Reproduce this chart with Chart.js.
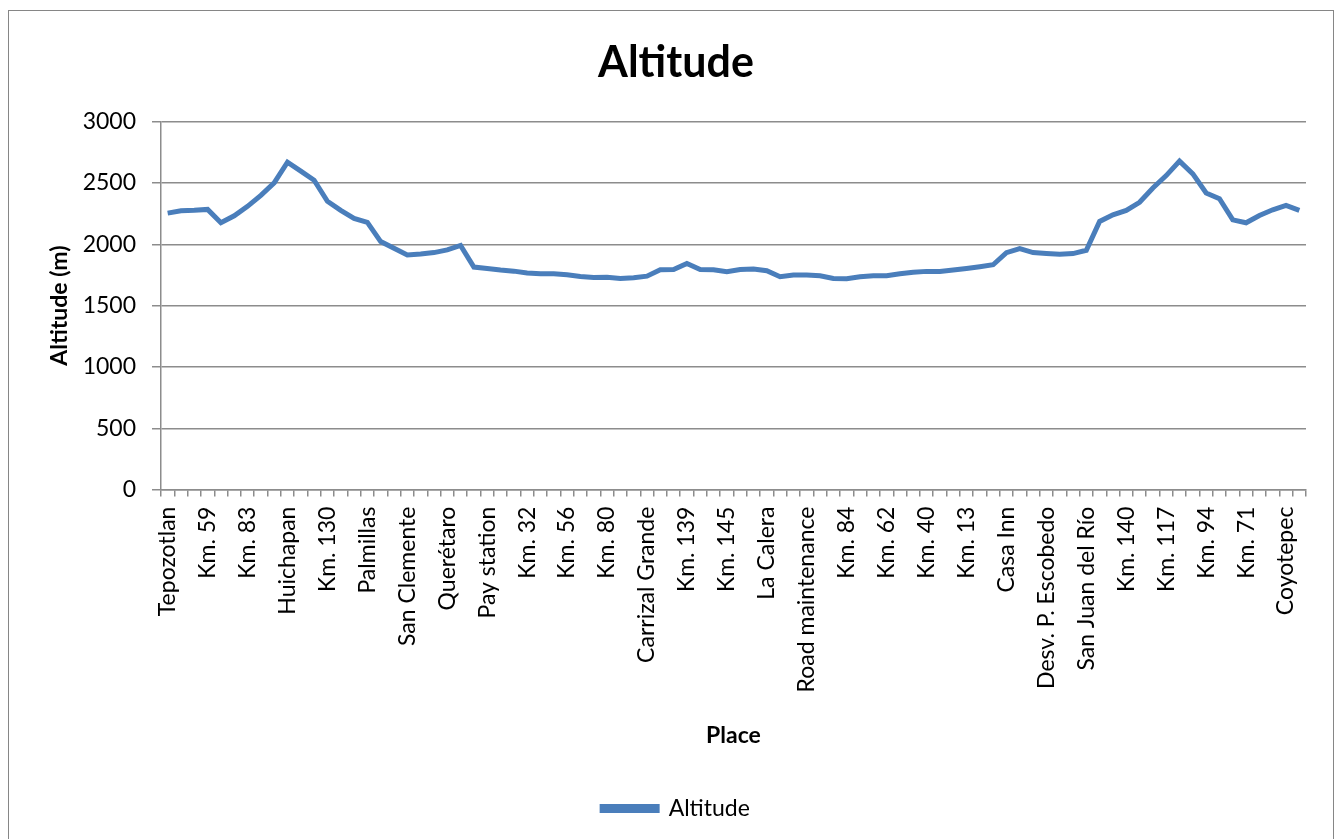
<!DOCTYPE html>
<html>
<head>
<meta charset="utf-8">
<script src="https://cdn.jsdelivr.net/npm/chart.js"></script>
<style>
  html, body { margin: 0; padding: 0; background: #fff; overflow: hidden; }
  #frame { position: absolute; left: 8px; top: 10px; width: 1324px; height: 860px; border: 1px solid #868686; }
  #wrap { position: absolute; left: 0; top: 0; width: 1341px; height: 839px; }
</style>
</head>
<body>
<div id="frame"></div>
<div id="wrap"><canvas id="chart" width="1341" height="839"></canvas></div>
<script>
// Places shown on the axis (every third stop along the route)
const tickLabels = [
  'Tepozotlan', 'Km. 59', 'Km. 83', 'Huichapan', 'Km. 130', 'Palmillas',
  'San Clemente', 'Querétaro', 'Pay station', 'Km. 32', 'Km. 56', 'Km. 80',
  'Carrizal Grande', 'Km. 139', 'Km. 145', 'La Calera', 'Road maintenance',
  'Km. 84', 'Km. 62', 'Km. 40', 'Km. 13', 'Casa Inn', 'Desv. P. Escobedo',
  'San Juan del Río', 'Km. 140', 'Km. 117', 'Km. 94', 'Km. 71', 'Coyotepec'
];

// Altitude (m) at each stop
const altitude = [
  2254, 2273, 2277, 2284, 2175, 2232, 2309, 2399, 2500, 2669,
  2596, 2522, 2350, 2276, 2210, 2178, 2022, 1967, 1913, 1921,
  1932, 1954, 1990, 1814, 1803, 1790, 1781, 1765, 1760, 1760,
  1751, 1738, 1730, 1732, 1721, 1727, 1740, 1792, 1795, 1844,
  1795, 1792, 1777, 1795, 1798, 1784, 1735, 1749, 1749, 1743,
  1721, 1719, 1735, 1743, 1743, 1760, 1771, 1779, 1779, 1790,
  1803, 1817, 1833, 1932, 1965, 1932, 1924, 1918, 1924, 1951,
  2186, 2240, 2276, 2342, 2459, 2560, 2678, 2574, 2418, 2372,
  2199, 2175, 2235, 2281, 2317, 2276
];

// one category per stop; only every third one carries a name
const places = altitude.map((v, i) => (i % 3 === 0 ? tickLabels[i / 3] : ''));

const FONT = 'Lato, "Noto Sans", sans-serif';
const GRID = '#8c8c8c';

new Chart(document.getElementById('chart').getContext('2d'), {
  type: 'line',
  data: {
    labels: places,
    datasets: [{
      label: 'Altitude',
      data: altitude,
      borderColor: '#4a7ebb',
      backgroundColor: '#4a7ebb',
      borderWidth: 5,
      pointRadius: 0,
      tension: 0,
      fill: false
    }]
  },
  options: {
    responsive: false,
    animation: false,
    layout: { padding: { left: 46, right: 35, top: 20, bottom: 9 } },
    plugins: {
      title: {
        display: true,
        text: 'Altitude',
        color: '#000',
        font: { family: FONT, size: 43, weight: 'bold' },
        padding: { top: 17, bottom: 33 }
      },
      legend: {
        position: 'bottom',
        labels: {
          color: '#000',
          font: { family: FONT, size: 23 },
          boxWidth: 55,
          boxHeight: 4,
          padding: 10
        }
      },
      tooltip: { enabled: false }
    },
    scales: {
      x: {
        offset: true,
        border: { color: GRID, width: 1.5 },
        grid: { offset: true, drawOnChartArea: false, drawTicks: true, tickLength: 7, color: GRID, lineWidth: 1.5 },
        ticks: {
          autoSkip: false,
          maxRotation: 90,
          minRotation: 90,
          padding: 10,
          color: '#000',
          font: { family: FONT, size: 23 }
        },
        title: {
          display: true,
          text: 'Place',
          color: '#000',
          font: { family: FONT, size: 23, weight: 'bold' },
          padding: { top: 19, bottom: 38 }
        }
      },
      y: {
        min: 0,
        max: 3000,
        border: { color: GRID, width: 1.5 },
        grid: { color: GRID, lineWidth: 1.5, tickLength: 9 },
        ticks: {
          stepSize: 500,
          padding: 16,
          color: '#000',
          font: { family: FONT, size: 23 },
          callback: v => String(v)
        },
        title: {
          display: true,
          text: 'Altitude (m)',
          color: '#000',
          font: { family: FONT, size: 23, weight: 'bold' },
          padding: { top: 0, bottom: 0 }
        },
        afterFit: s => { s.width = 115; }
      }
    }
  }
});
</script>
</body>
</html>
